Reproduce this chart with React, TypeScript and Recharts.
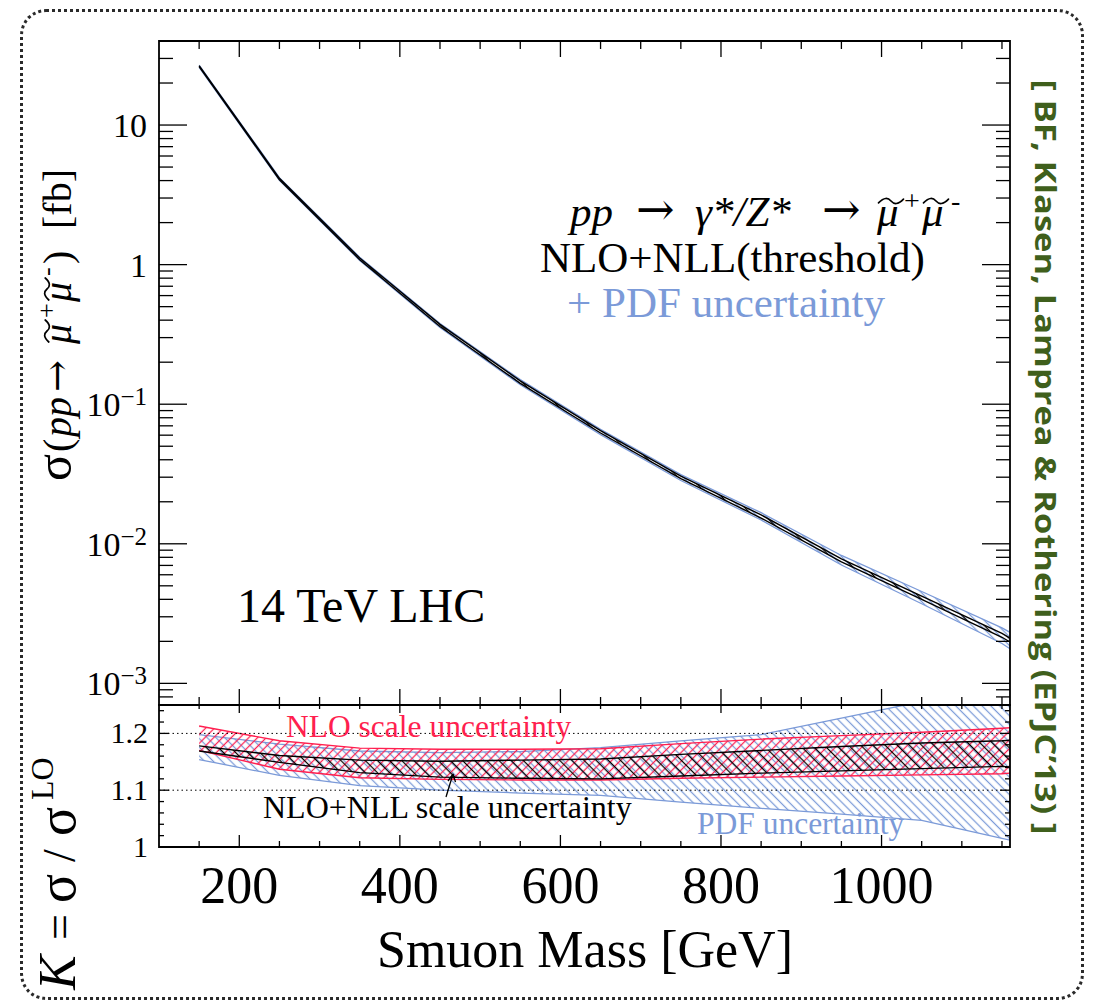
import React from 'react';
import { ComposedChart, Area, XAxis, YAxis, ReferenceLine, ReferenceArea } from 'recharts';

// ---------- data ----------
const mass = [150, 250, 350, 450, 550, 650, 750, 850, 950, 1050, 1150, 1160];

// main panel: cross section [fb]
const sigmaScaleLo = [26.2, 4.06, 1.085, 0.36, 0.141, 0.0622, 0.0293, 0.0153, 0.00742, 0.004, 0.00214, 0.00198];
const sigmaScaleHi = [26.6, 4.15, 1.115, 0.373, 0.147, 0.0646, 0.0305, 0.0161, 0.0078, 0.00422, 0.00228, 0.00211];
const sigmaPdfLo = [25.9, 4.02, 1.07, 0.354, 0.138, 0.0606, 0.0284, 0.0148, 0.00705, 0.00372, 0.00193, 0.00177];
const sigmaPdfHi = [26.9, 4.2, 1.13, 0.379, 0.15, 0.066, 0.0313, 0.0167, 0.00825, 0.00455, 0.0025, 0.00232];

// lower panel: K factors
const kNloLo = [1.17, 1.137, 1.122, 1.119, 1.118, 1.118, 1.121, 1.123, 1.125, 1.127, 1.129, 1.13];
const kNloHi = [1.213, 1.187, 1.174, 1.172, 1.172, 1.173, 1.182, 1.19, 1.196, 1.202, 1.209, 1.21];
const kNllLo = [1.169, 1.149, 1.131, 1.123, 1.121, 1.12, 1.125, 1.13, 1.134, 1.138, 1.142, 1.141];
const kNllHi = [1.178, 1.161, 1.153, 1.151, 1.153, 1.155, 1.163, 1.17, 1.177, 1.183, 1.187, 1.188];
const kPdfLo = [1.154, 1.126, 1.108, 1.1, 1.095, 1.091, 1.079, 1.068, 1.058, 1.047, 1.015, 1.012];
const kPdfHi = [1.198, 1.181, 1.169, 1.166, 1.168, 1.175, 1.187, 1.198, 1.227, 1.256, 1.285, 1.288];

// ticks
const xMajorTicks = [200, 400, 600, 800, 1000];
const xMajorLabels = ['200', '400', '600', '800', '1000'];
const xMinorTicks = [150, 250, 300, 350, 450, 500, 550, 650, 700, 750, 850, 900, 950, 1050, 1100, 1150];
const yMajorTicks = [0.001, 0.01, 0.1, 1, 10];
const yMajorBase = ['10', '10', '10', '1', '10'];
const yMajorExp = ['\u22123', '\u22122', '\u22121', '', ''];
const yMinorTicks = [
  0.0008, 0.0009,
  0.002, 0.003, 0.004, 0.005, 0.006, 0.007, 0.008, 0.009,
  0.02, 0.03, 0.04, 0.05, 0.06, 0.07, 0.08, 0.09,
  0.2, 0.3, 0.4, 0.5, 0.6, 0.7, 0.8, 0.9,
  2, 3, 4, 5, 6, 7, 8, 9,
  20, 30,
];
const kMajorTicks = [1, 1.1, 1.2];
const kMajorLabels = ['1', '1.1', '1.2'];
const kMinorTicks = [1.02, 1.04, 1.06, 1.08, 1.12, 1.14, 1.16, 1.18, 1.22, 1.24];

const rows = mass.map((m, i) => ({
  mass: m,
  sLo: sigmaScaleLo[i],
  sHi: sigmaScaleHi[i],
  pLo: sigmaPdfLo[i],
  pHi: sigmaPdfHi[i],
  nloLo: kNloLo[i],
  nloHi: kNloHi[i],
  nllLo: kNllLo[i],
  nllHi: kNllHi[i],
  kpLo: kPdfLo[i],
  kpHi: kPdfHi[i],
}));

// ---------- styling ----------
const SERIF = '"Liberation Serif", "Times New Roman", serif';
const DJV = '"DejaVu Serif", serif';
const RED = '#ff1f4f';
const BLUE = '#7b9ad8';
const GREEN = '#3f5f1c';
const PW = 851; // plot width
const PH1 = 664; // main plot height
const PH2 = 142; // lower plot height

const findIdx = (arr: number[], v: number) => arr.findIndex((t) => Math.abs(t - v) / Math.abs(t) < 1e-6);

function MainXTick(props: any) {
  const { x, y, payload } = props;
  const major = findIdx(xMajorTicks, payload.value) >= 0;
  const len = major ? 16 : 8;
  return (
    <g>
      <line x1={x} y1={y} x2={x} y2={y - len} stroke="#000" strokeWidth={1.3} />
      <line x1={x} y1={y - PH1} x2={x} y2={y - PH1 + len} stroke="#000" strokeWidth={1.3} />
    </g>
  );
}

function MainYTick(props: any) {
  const { x, y, payload } = props;
  const mi = findIdx(yMajorTicks, payload.value);
  const major = mi >= 0;
  const len = major ? 28 : 14;
  return (
    <g>
      <line x1={x} y1={y} x2={x + len} y2={y} stroke="#000" strokeWidth={1.3} />
      <line x1={x + PW} y1={y} x2={x + PW - len} y2={y} stroke="#000" strokeWidth={1.3} />
      {major && (
        <text x={x - 12} y={y + 12} textAnchor="end" fontSize={34} fontFamily={SERIF} fill="#000">
          {yMajorBase[mi]}
          {yMajorExp[mi] ? (
            <tspan dy={-11} fontSize={25}>
              {yMajorExp[mi]}
            </tspan>
          ) : null}
        </text>
      )}
    </g>
  );
}

function LowerXTick(props: any) {
  const { x, y, payload } = props;
  const mi = findIdx(xMajorTicks, payload.value);
  const major = mi >= 0;
  const lenB = major ? 12 : 6;
  const lenT = major ? 8 : 4;
  return (
    <g>
      <line x1={x} y1={y} x2={x} y2={y - lenB} stroke="#000" strokeWidth={1.3} />
      <line x1={x} y1={y - PH2} x2={x} y2={y - PH2 + lenT} stroke="#000" strokeWidth={1.3} />
      {major && (
        <text x={x} y={y + 56} textAnchor="middle" fontSize={52} fontFamily={SERIF} fill="#000">
          {xMajorLabels[mi]}
        </text>
      )}
    </g>
  );
}

function LowerYTick(props: any) {
  const { x, y, payload } = props;
  const mi = findIdx(kMajorTicks, payload.value);
  const major = mi >= 0;
  const len = major ? 10 : 5;
  return (
    <g>
      <line x1={x} y1={y} x2={x + len} y2={y} stroke="#000" strokeWidth={1.3} />
      <line x1={x + PW} y1={y} x2={x + PW - len} y2={y} stroke="#000" strokeWidth={1.3} />
      {major && (
        <text x={x - 11} y={y + 10} textAnchor="end" fontSize={30} fontFamily={SERIF} fill="#000">
          {kMajorLabels[mi]}
        </text>
      )}
    </g>
  );
}

function Hatches({ prefix }: { prefix: string }) {
  return (
    <defs>
      <pattern id={`${prefix}-blue`} patternUnits="userSpaceOnUse" width={12} height={6.2} patternTransform="rotate(45)">
        <line x1={0} y1={3.1} x2={12} y2={3.1} stroke={BLUE} strokeWidth={1.25} />
      </pattern>
      <pattern id={`${prefix}-red`} patternUnits="userSpaceOnUse" width={12} height={6.2} patternTransform="rotate(-45)">
        <line x1={0} y1={3.1} x2={12} y2={3.1} stroke={RED} strokeWidth={1.25} />
      </pattern>
      <pattern id={`${prefix}-black`} patternUnits="userSpaceOnUse" width={12} height={8.6} patternTransform="rotate(45)">
        <line x1={0} y1={4.3} x2={12} y2={4.3} stroke="#000" strokeWidth={1.25} />
      </pattern>
    </defs>
  );
}

const allX = [...xMajorTicks, ...xMinorTicks].sort((a, b) => a - b);
const allY = [...yMajorTicks, ...yMinorTicks].sort((a, b) => a - b);
const allK = [...kMajorTicks, ...kMinorTicks].sort((a, b) => a - b);

function MainChart() {
  return (
    <ComposedChart width={1112} height={710} data={rows} margin={{ top: 41, right: 102, bottom: 0, left: 0 }}>
      <Hatches prefix="m" />
      <XAxis
        dataKey="mass"
        type="number"
        domain={[100, 1160]}
        allowDataOverflow
        ticks={allX}
        interval={0}
        tick={MainXTick}
        tickSize={0}
        tickMargin={0}
        tickLine={false}
        axisLine={false}
        height={5}
      />
      <YAxis
        type="number"
        scale="log"
        domain={[0.0007, 40]}
        allowDataOverflow
        ticks={allY}
        interval={0}
        tick={MainYTick}
        tickSize={0}
        tickMargin={0}
        tickLine={false}
        axisLine={false}
        width={159}
      />
      <Area
        dataKey={(d: any) => [d.pLo, d.pHi]}
        type="linear"
        stroke={BLUE}
        strokeWidth={1.3}
        fill="url(#m-blue)"
        fillOpacity={1}
        dot={false}
        activeDot={false}
        isAnimationActive={false}
      />
      <Area
        dataKey={(d: any) => [d.sLo, d.sHi]}
        type="linear"
        stroke="#000"
        strokeWidth={1.4}
        fill="url(#m-black)"
        fillOpacity={1}
        dot={false}
        activeDot={false}
        isAnimationActive={false}
      />
      <ReferenceArea x1={100} x2={1160} y1={0.0007} y2={40} fill="none" stroke="#000" strokeWidth={1.8} ifOverflow="visible" />
    </ComposedChart>
  );
}

function LowerChart() {
  return (
    <ComposedChart width={1112} height={1005} data={rows} margin={{ top: 705, right: 102, bottom: 0, left: 0 }}>
      <Hatches prefix="k" />
      <XAxis
        dataKey="mass"
        type="number"
        domain={[100, 1160]}
        allowDataOverflow
        ticks={allX}
        interval={0}
        tick={LowerXTick}
        tickSize={0}
        tickMargin={0}
        tickLine={false}
        axisLine={false}
        height={158}
      />
      <YAxis
        type="number"
        domain={[1, 1.25]}
        allowDataOverflow
        ticks={allK}
        interval={0}
        tick={LowerYTick}
        tickSize={0}
        tickMargin={0}
        tickLine={false}
        axisLine={false}
        width={159}
      />
      <ReferenceLine y={1.1} stroke="#000" strokeWidth={1} strokeDasharray="1.5 3" />
      <ReferenceLine y={1.2} stroke="#000" strokeWidth={1} strokeDasharray="1.5 3" />
      <Area
        dataKey={(d: any) => [d.kpLo, d.kpHi]}
        type="linear"
        stroke={BLUE}
        strokeWidth={1.3}
        fill="url(#k-blue)"
        fillOpacity={1}
        dot={false}
        activeDot={false}
        isAnimationActive={false}
      />
      <Area
        dataKey={(d: any) => [d.nloLo, d.nloHi]}
        type="linear"
        stroke={RED}
        strokeWidth={1.4}
        fill="url(#k-red)"
        fillOpacity={1}
        dot={false}
        activeDot={false}
        isAnimationActive={false}
      />
      <Area
        dataKey={(d: any) => [d.nllLo, d.nllHi]}
        type="linear"
        stroke="#000"
        strokeWidth={1.4}
        fill="url(#k-black)"
        fillOpacity={1}
        dot={false}
        activeDot={false}
        isAnimationActive={false}
      />
      <ReferenceArea x1={100} x2={1160} y1={1} y2={1.25} fill="none" stroke="#000" strokeWidth={1.8} ifOverflow="visible" />
    </ComposedChart>
  );
}

// wide tilde accent (drawn as a stroke over the preceding mu glyph)
function Tilde({ cx, cy, w, a }: { cx: number; cy: number; w: number; a: number }) {
  const h = w / 2;
  const d = `M${cx - h},${cy + a * 0.6} C${cx - h * 0.55},${cy - a * 1.2} ${cx - h * 0.25},${cy - a * 1.1} ${cx},${cy} S${cx + h * 0.55},${cy + a * 1.2} ${cx + h},${cy - a * 0.6}`;
  return <path d={d} stroke="#000" strokeWidth={1.7} fill="none" strokeLinecap="round" />;
}

function Overlay() {
  return (
    <svg width={1112} height={1005} style={{ position: 'absolute', left: 0, top: 0, pointerEvents: 'none' }}>
      {/* main y label, rotated: local x = -screenY */}
      <g transform="translate(71,0) rotate(-90)" fill="#000" fontFamily={SERIF}>
        <text x={-481} y={0} fontSize={50}>σ</text>
        <text x={-452} y={0} fontSize={40}>(</text>
        <text x={-437} y={0} fontSize={40} fontStyle="italic">pp</text>
        <text x={-392} y={-1} fontSize={38} fontFamily={DJV}>→</text>
        <text x={-344} y={0} fontSize={40} fontStyle="italic">μ</text>
        <Tilde cx={-331} cy={-24} w={22} a={3} />
        <text x={-318} y={-16} fontSize={26}>+</text>
        <text x={-302} y={0} fontSize={40} fontStyle="italic">μ</text>
        <Tilde cx={-289} cy={-24} w={22} a={3} />
        <text x={-276} y={-16} fontSize={26}>-</text>
        <text x={-264} y={0} fontSize={40}>)</text>
        <text x={-229} y={0} fontSize={40}>[fb]</text>
      </g>
      {/* lower y label */}
      <g transform="translate(75,0) rotate(-90)" fill="#000" fontFamily={SERIF}>
        <text x={-990} y={0} fontSize={52} fontStyle="italic">K</text>
        <text x={-940} y={0} fontSize={46}>=</text>
        <text x={-903} y={0} fontSize={54}>σ</text>
        <text x={-862} y={0} fontSize={46}>/</text>
        <text x={-836} y={0} fontSize={54}>σ</text>
        <text x={-800} y={-22} fontSize={32}>LO</text>
      </g>
      {/* x axis title */}
      <text x={585} y={967} textAnchor="middle" fontSize={52} fontFamily={SERIF} fill="#000">
        Smuon Mass [GeV]
      </text>
      {/* process legend */}
      <g fill="#000" fontFamily={SERIF}>
        <text x={570} y={226} fontSize={43} fontStyle="italic">pp</text>
        <text x={636} y={225} fontSize={46} fontFamily={DJV}>→</text>
        <text x={695} y={226} fontSize={43} fontStyle="italic">γ*/Z*</text>
        <text x={822} y={225} fontSize={46} fontFamily={DJV}>→</text>
        <text x={877} y={226} fontSize={43} fontStyle="italic">μ</text>
        <Tilde cx={891} cy={201} w={25} a={3.2} />
        <text x={904} y={210} fontSize={28}>+</text>
        <text x={922} y={226} fontSize={43} fontStyle="italic">μ</text>
        <Tilde cx={936} cy={201} w={25} a={3.2} />
        <text x={951} y={210} fontSize={28}>-</text>
      </g>
      <text x={540} y={272} fontSize={43} fontFamily={SERIF} fill="#000">
        NLO+NLL(threshold)
      </text>
      <text x={567} y={317} fontSize={43} fontFamily={SERIF} fill={BLUE}>
        + PDF uncertainty
      </text>
      <text x={237} y={622} fontSize={48} fontFamily={SERIF} fill="#000">
        14 TeV LHC
      </text>
      {/* lower panel labels */}
      <text x={286} y={737} fontSize={31.5} fontFamily={SERIF} fill={RED}>
        NLO scale uncertainty
      </text>
      <text x={263} y={818} fontSize={32} fontFamily={SERIF} fill="#000">
        NLO+NLL scale uncertainty
      </text>
      <text x={697} y={834} fontSize={31.5} fontFamily={SERIF} fill={BLUE}>
        PDF uncertainty
      </text>
      <line x1={446} y1={797} x2={453} y2={774} stroke="#000" strokeWidth={1.3} />
      <path d="M453,774 L448,781 M453,774 L455.5,782" stroke="#000" strokeWidth={1.3} fill="none" />
      {/* citation */}
      <text
        transform="translate(1035,457) rotate(90)"
        textAnchor="middle"
        fontSize={28}
        fontWeight={700}
        fontFamily='"Open Sans", sans-serif'
        fill={GREEN}
        textLength={755}
        lengthAdjust="spacingAndGlyphs"
      >
        [ BF, Klasen, Lamprea &amp; Rothering (EPJC’13) ]
      </text>
    </svg>
  );
}

export default function App() {
  return (
    <div style={{ position: 'absolute', left: 0, top: 0, width: 1112, height: 1005, background: '#fff', overflow: 'hidden' }}>
      <div
        style={{
          position: 'absolute',
          left: 20,
          top: 9,
          width: 1064,
          height: 991,
          boxSizing: 'border-box',
          border: '3px dotted #2a2a2a',
          borderRadius: 26,
        }}
      />
      <div style={{ position: 'absolute', left: 0, top: 0 }}>
        <MainChart />
      </div>
      <div style={{ position: 'absolute', left: 0, top: 0 }}>
        <LowerChart />
      </div>
      <Overlay />
    </div>
  );
}
